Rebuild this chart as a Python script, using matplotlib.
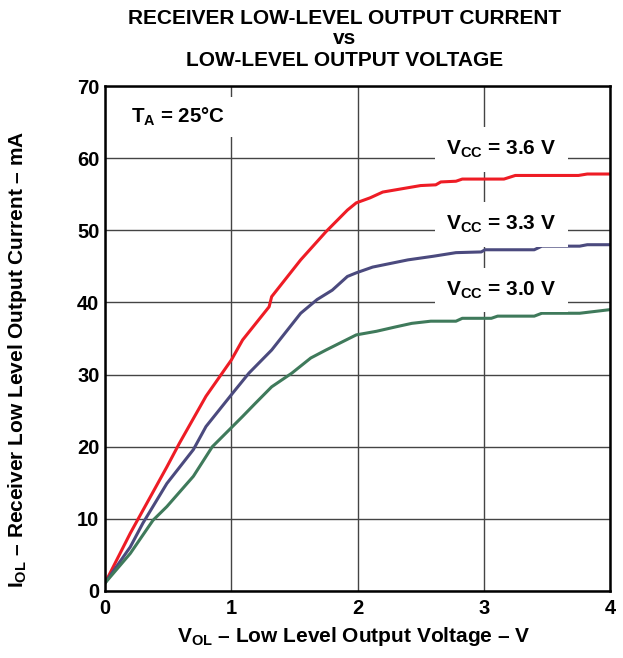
import matplotlib
matplotlib.use('Agg')
import matplotlib.pyplot as plt

plt.rcParams['font.family'] = ['Liberation Sans', 'DejaVu Sans']
plt.rcParams['font.weight'] = 'bold'
plt.rcParams['mathtext.fontset'] = 'custom'
plt.rcParams['mathtext.rm'] = 'Liberation Sans:bold'
plt.rcParams['mathtext.it'] = 'Liberation Sans:bold'
plt.rcParams['mathtext.bf'] = 'Liberation Sans:bold'

# VOL (V) vs IOL (mA)
v36 = [0, 0.2, 0.49, 0.59, 0.8, 1.0, 1.09, 1.3, 1.32, 1.55, 1.75, 1.92, 1.99, 2.1, 2.2,
       2.5, 2.62, 2.66, 2.78, 2.83, 3.16, 3.25, 3.75, 3.82, 4.0]
i36 = [1.1, 8.0, 17.2, 20.5, 27.0, 32.0, 34.8, 39.4, 40.8, 45.9, 49.8, 52.8, 53.8, 54.5, 55.3,
       56.2, 56.3, 56.7, 56.8, 57.1, 57.1, 57.6, 57.6, 57.8, 57.8]

v33 = [0, 0.2, 0.3, 0.49, 0.7, 0.8, 1.01, 1.14, 1.32, 1.55, 1.68, 1.8, 1.92, 1.99, 2.12,
       2.4, 2.48, 2.6, 2.78, 2.98, 3.01, 3.4, 3.46, 3.76, 3.82, 4.0]
i33 = [1.1, 6.1, 9.4, 14.9, 19.6, 22.8, 27.4, 30.2, 33.4, 38.5, 40.4, 41.7, 43.6, 44.1, 44.9,
       45.9, 46.1, 46.4, 46.9, 47.0, 47.3, 47.3, 47.8, 47.8, 48.0, 48.0]

v30 = [0, 0.2, 0.38, 0.49, 0.7, 0.85, 1.01, 1.09, 1.19, 1.32, 1.48, 1.63, 1.75, 1.99, 2.15,
       2.3, 2.43, 2.58, 2.78, 2.83, 3.06, 3.11, 3.4, 3.46, 3.76, 4.0]
i30 = [1.1, 5.2, 9.8, 11.7, 15.9, 20.0, 22.8, 24.2, 26.0, 28.3, 30.2, 32.3, 33.4, 35.5, 36.0,
       36.6, 37.1, 37.4, 37.4, 37.8, 37.8, 38.1, 38.1, 38.5, 38.5, 39.0]

xticks = [0, 1, 2, 3, 4]
yticks = [0, 10, 20, 30, 40, 50, 60, 70]

fig = plt.figure(figsize=(6.23, 6.58), dpi=100)
ax = fig.add_axes([105 / 623, 1 - 591 / 658, 505 / 623, 505 / 658])

ax.plot(v36, i36, color='#ee1c25', lw=2.2)
ax.plot(v33, i33, color='#4b4a7e', lw=2.2)
ax.plot(v30, i30, color='#3f7a5b', lw=2.2)

ax.set_xlim(0, 4)
ax.set_ylim(0, 70)
ax.set_xticks(xticks)
ax.set_yticks(yticks)
ax.grid(True, color='#444444', lw=1.0)
ax.set_axisbelow(True)
ax.tick_params(length=0, labelsize=14.5)
ax.tick_params(axis='y', pad=4)
ax.tick_params(axis='x', pad=6)
for s in ax.spines.values():
    s.set_linewidth(1.8)

box = dict(boxstyle='square,pad=0.55', fc='white', ec='none')
ax.text(0.58, 65.7, r'T$_{\mathrm{A}}$ = 25°C', fontsize=14.8, ha='center', va='center',
        bbox=dict(boxstyle='square,pad=0.45', fc='white', ec='none'))
ax.text(3.14, 61.2, r'V$_{\mathrm{CC}}$ = 3.6 V', fontsize=15, ha='center', va='center', bbox=box)
ax.text(3.14, 50.8, r'V$_{\mathrm{CC}}$ = 3.3 V', fontsize=15, ha='center', va='center', bbox=box)
ax.text(3.14, 41.7, r'V$_{\mathrm{CC}}$ = 3.0 V', fontsize=15, ha='center', va='center', bbox=box)

fig.text(345 / 623, 1 - 18 / 658, 'RECEIVER LOW-LEVEL OUTPUT CURRENT', fontsize=15, ha='center', va='center')
fig.text(345 / 623, 1 - 39 / 658, 'vs', fontsize=15, ha='center', va='center')
fig.text(345 / 623, 1 - 61 / 658, 'LOW-LEVEL OUTPUT VOLTAGE', fontsize=15, ha='center', va='center')

fig.text(354 / 623, 1 - 637 / 658, r'V$_{\mathrm{OL}}$ – Low Level Output Voltage – V',
         fontsize=15, ha='center', va='center')
fig.text(18 / 623, 1 - 359 / 658, r'I$_{\mathrm{OL}}$ – Receiver Low Level Output Current – mA',
         fontsize=15, ha='center', va='center', rotation=90)

fig.savefig('out.png', dpi=100, facecolor='white')
